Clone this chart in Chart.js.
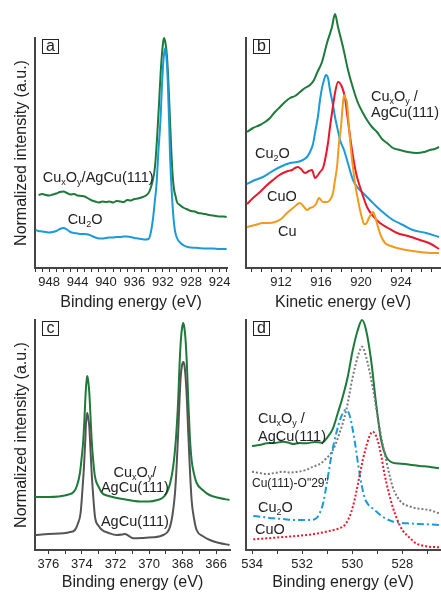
<!DOCTYPE html>
<html>
<head>
<meta charset="utf-8">
<script src="https://cdn.jsdelivr.net/npm/chart.js@4.4.1/dist/chart.umd.min.js"></script>
<style>
  html, body { margin: 0; padding: 0; background: #fff; }
  #wrap { position: relative; width: 441px; height: 593px; }
  #wrap canvas { position: absolute; left: 0; top: 0; }
</style>
</head>
<body>
<div id="wrap">
  <canvas id="panelA" width="441" height="593"></canvas>
  <canvas id="panelB" width="441" height="593"></canvas>
  <canvas id="panelC" width="441" height="593"></canvas>
  <canvas id="panelD" width="441" height="593"></canvas>
</div>
<script>
// ---- panel a: Cu 2p (binding energy, eV) ----
const aOxideE = [949.5,949.0,948.5,948.0,947.5,947.0,946.5,946.0,945.5,945.0,944.5,944.0,943.5,943.0,942.5,942.0,941.5,941.0,940.5,940.0,939.5,939.0,938.5,938.0,937.5,937.0,936.5,936.0,935.5,935.0,934.5,934.0,933.7,933.4,933.1,932.8,932.5,932.3,932.1,931.9,931.8,931.6,931.4,931.2,931.0,930.8,930.6,930.4,930.2,930.0,929.6,929.0,928.5,928.0,927.5,927.0,926.5,926.0,925.5,925.0,924.5,924.0,923.5,923.0];
const aOxideI = [73,74,73,72.5,73.5,74.5,76,76.5,75,73.5,74,72.5,72,71.5,69.5,67.5,66.5,65.5,66.5,66,66.5,65.5,67,66.5,66,68,67.5,69,69.5,70.5,72,75,80,88,101,130,168,195,215,228,230,224,211,185,151,118,92,78,72,66,63,60,58.5,57,56.5,55,54.5,54,53,52.5,52,51.5,51.5,51];
const aCu2oE = [949.9,949.5,949.0,948.5,948.0,947.5,947.0,946.5,946.0,945.5,945.0,944.5,944.0,943.5,943.0,942.5,942.0,941.5,941.0,940.5,940.0,939.5,939.0,938.5,938.0,937.5,937.0,936.5,936.0,935.5,935.0,934.5,934.0,933.7,933.4,933.1,932.9,932.6,932.3,932.1,931.9,931.7,931.5,931.3,931.1,931.0,930.8,930.5,930.3,930.0,929.5,929.0,928.5,928.0,927.0,926.0,925.0,924.0,923.0];
const aCu2oI = [38,37,36.5,36,35.5,36,37,39,40,38.5,36,35,34.5,34,34,33.5,32,30.5,29.5,29.5,30,30.5,30.5,31,31,31.5,31.5,31,30,29.5,29,28.5,29,35,48,68,82,118,151,185,208,219.5,212,188,145,118,85,51,38,30,25,22.5,21,20.5,20,19.5,19.5,19,19];

// ---- panel b: Cu LMM (kinetic energy, eV) ----
const bOxideE = [908.6,909.2,909.9,910.4,910.9,911.4,911.9,912.4,912.9,913.4,913.9,914.4,914.9,915.3,915.6,916.1,916.6,917.1,917.4,917.7,918.2,918.7,919.2,919.7,920.2,920.6,921.1,921.6,922.1,922.6,923.2,923.9,924.7,925.6,926.3,926.9,927.4,927.8];
const bOxideI = [136,140,143,146,150,156,161,166,170,172,176,180,183,188,195,206,225,241,254,241,221,198,180,165,155,148,141,136,129,125,120,118,116,115,116,118,119,121];
const bCu2oE = [908.6,909.4,910.2,911.0,911.9,912.9,913.6,914.2,914.6,914.9,915.2,915.4,915.7,915.9,916.1,916.3,916.5,916.7,916.9,917.2,917.4,917.7,917.9,918.3,918.6,919.2,919.7,920.2,920.9,921.6,922.4,923.2,924.2,925.2,926.5,927.8];
const bCu2oI = [84,88,91,96,101,105,106,108,111,116,124,135,152,168,180,188,193,190,178,163,151,137,128,118,108,88,80,75,68,61,54,48,43,38,35,31];
const bCuoE = [908.6,909.2,909.9,910.5,911.2,911.7,912.2,912.7,913.1,913.4,913.7,914.0,914.4,914.8,915.1,915.4,915.7,915.9,916.2,916.4,916.7,916.9,917.2,917.4,917.7,918.1,918.4,918.6,918.9,919.1,919.4,919.6,920.1,920.6,921.2,921.9,922.7,923.6,924.7,925.9,927.0,927.8];
const bCuoI = [64,70,76,82,88,92,95,97,98,100,101,99,95,97,98,90,93,96,100,108,125,141,162,175,186,181,170,155,132,118,100,91,75,61,52,45,40,35,32,28,24,19];
const bCuE = [908.6,909.4,910.2,910.8,911.4,912.0,912.6,913.2,913.9,914.3,914.6,914.9,915.2,915.5,915.8,916.2,916.6,916.9,917.2,917.4,917.6,917.8,918.0,918.15,918.3,918.45,918.6,918.8,919.0,919.2,919.4,919.7,919.9,920.1,920.3,920.5,920.7,920.95,921.2,921.45,921.7,922.0,922.4,923.0,923.6,924.5,925.9,927.0,927.8];
const bCuI = [41,43,45,45,46,49,55,60,65,61,58,60,61,64,70,66,66,68,75,88,101,125,141,160,173,170,165,140,118,100,85,68,58,50,44,44,48,53,56,50,41,32,25,22,20,18,16,15,15];

// ---- panel c: Ag 3d (binding energy, eV) ----
const cOxideE = [376.8,376.0,375.4,374.9,374.5,374.3,374.12,374.0,373.92,373.84,373.78,373.72,373.68,373.62,373.56,373.48,373.42,373.32,373.22,373.0,372.8,372.4,371.9,371.4,370.9,370.5,370.0,369.5,369.2,368.95,368.75,368.56,368.4,368.26,368.18,368.1,368.03,367.96,367.89,367.82,367.74,367.66,367.56,367.46,367.3,367.16,366.8,366.4,365.8,365.2];
const cOxideI = [53,53,53.5,55,58,64,77,95,110,135,157,170,174,168,157,130,110,88,73,63,57,54,52,50.5,49,48.5,48.5,50,52,57,66,83,110,150,185,210,222,227,222,210,185,150,112,90,75,67,60,55,52,50];
const cAgCuE = [376.8,376.0,375.1,374.7,374.42,374.25,374.08,373.98,373.88,373.8,373.76,373.72,373.68,373.62,373.56,373.49,373.42,373.32,373.22,373.0,372.8,372.4,371.93,371.6,371.44,371.2,370.94,370.4,369.75,369.4,369.15,368.9,368.75,368.6,368.45,368.35,368.26,368.18,368.11,368.03,367.96,367.89,367.82,367.74,367.66,367.56,367.46,367.3,367.16,366.8,366.37,365.8,365.2];
const cAgCuI = [15,16,16.7,18,20,26,37,58,83,110,127,134,137,131,123,100,77,52,33,24,20,17,15,15.5,16,14,11.7,12,12.7,13.5,15,18,23,35,57,85,117,150,173,185,188,185,173,150,117,80,50,30,20,14,10,7,5];

// ---- panel d: O 1s (binding energy, eV) ----
const dOxideE = [534.0,533.7,533.4,533.1,532.76,532.5,532.36,532.1,531.83,531.5,531.23,530.97,530.77,530.58,530.38,530.18,529.98,529.78,529.61,529.45,529.25,529.05,528.85,528.65,528.45,528.26,527.9,527.6,527.3,526.94,526.54];
const dOxideI = [104,105,106.7,107,108.3,107,106,107,106.7,108,107.3,113.3,121.7,136.7,153.3,173.3,200,220,230,220,190,146.7,110,93.3,88,86.7,86,85,84,83.3,81.7];
const dO29E = [534.0,533.7,533.42,533.1,532.76,532.45,532.16,531.85,531.57,531.3,531.1,530.77,530.51,530.24,529.98,529.74,529.61,529.45,529.19,528.92,528.65,528.39,528.2,528.0,527.7,527.46,527.2,526.94,526.54];
const dO29I = [78.3,77,76,77,78.3,77.5,78.3,80,83.3,86,90,100,116.7,140,173.3,196.7,203.3,193.3,163.3,123.3,90,63.3,53,46.7,43.5,41.7,41,40,36.7];
const dCu2oE = [533.95,533.55,533.15,532.75,532.36,532.0,531.7,531.45,531.3,531.15,531.04,530.94,530.84,530.74,530.64,530.44,530.27,530.11,529.91,529.71,529.52,529.35,529.19,528.79,528.45,528.13,527.7,527.33,526.9,526.54];
const dCu2oI = [34,33,31.7,31,30,30,30,31.5,36.7,48,63.3,78,93.3,106,116.7,133.3,140,135,110,76.7,53.3,45,41.7,33.3,29,27.3,26.5,26,25.5,25];
const dCuoE = [533.95,533.4,532.89,532.35,531.83,531.4,531.04,530.75,530.51,530.3,530.11,529.98,529.85,529.72,529.58,529.45,529.32,529.19,529.09,528.99,528.85,528.72,528.55,528.39,528.2,528.0,527.7,527.46,527.2,526.94,526.54];
const dCuoI = [10.7,11.7,12.7,13.8,15,16.5,18.3,20,21.7,25,33.3,43,56.7,73,90,103,113.3,118.3,116,110,95,76.7,58,43.3,30,20,12,6.7,4.5,3.3,2.7];

// in-plot labels: [text, subscript?] pieces
const oxideLabel = [['Cu'], ['x', 1], ['O'], ['y', 1], ['/AgCu(111)']];
const oxideLabelTop = [['Cu'], ['x', 1], ['O'], ['y', 1], [' /']];
const oxideLabelTopC = [['Cu'], ['x', 1], ['O'], ['y', 1], ['/']];
const cu2oLabel = [['Cu'], ['2', 1], ['O']];

const FONT = "'Liberation Sans', Arial, Helvetica, sans-serif";
const GREEN = '#1d7a3a', BLUE = '#1b9ad8', RED = '#e8182c', ORANGE = '#f29a1c';

const textPlugin = {
    id: 'panelText',
    afterDatasetsDraw(chart, args, opts) {
        const ctx = chart.ctx;
        const xs = chart.scales.x, ys = chart.scales.y;
        ctx.save();
        ctx.fillStyle = '#222';
        ctx.textBaseline = 'middle';
        ctx.textAlign = 'left';
        (opts.labels || []).forEach(lb => {
            const size = lb.size || 14.5;
            const font = sub => (sub ? Math.round(size * 0.6) : size) + 'px ' + FONT;
            const parts = lb.parts.map(p => ({ t: p[0], sub: !!p[1] }));
            let w = 0;
            parts.forEach(p => { ctx.font = font(p.sub); p.w = ctx.measureText(p.t).width; w += p.w; });
            let x = xs.getPixelForValue(lb.x);
            const y = ys.getPixelForValue(lb.y);
            if (lb.align === 'center') x -= w / 2;
            parts.forEach(p => {
                ctx.font = font(p.sub);
                ctx.fillText(p.t, x, p.sub ? y + size * 0.32 : y);
                x += p.w;
            });
        });
        if (opts.letter) {
            // boxed panel letter
            const a = chart.chartArea;
            const bx = Math.round(a.left + 7), by = Math.round(a.top + 1);
            ctx.strokeStyle = '#222';
            ctx.lineWidth = 1;
            ctx.strokeRect(bx + 0.5, by + 0.5, 16, 14);
            ctx.font = '16px ' + FONT;
            ctx.textAlign = 'center';
            ctx.fillText(opts.letter, bx + 8.5, by + 8);
        }
        ctx.restore();
    }
};

function makePanel(id, cfg) {
    const datasets = cfg.series.map(s => ({
        data: s.e.map((e, i) => ({ x: e, y: s.i[i] })),
        borderColor: s.color,
        borderWidth: s.width || 2,
        borderDash: s.dash || [],
        pointRadius: 0,
        cubicInterpolationMode: 'monotone',
        fill: false,
        clip: false
    }));

    return new Chart(document.getElementById(id), {
        type: 'line',
        data: { datasets: datasets },
        options: {
            responsive: false,
            animation: false,
            devicePixelRatio: 1,
            layout: { padding: cfg.pad },
            plugins: {
                legend: { display: false },
                tooltip: { enabled: false },
                panelText: { labels: cfg.labels, letter: cfg.letter }
            },
            scales: {
                x: {
                    type: 'linear',
                    bounds: 'data',
                    min: cfg.xmin,
                    max: cfg.xmax,
                    reverse: cfg.reverse,
                    border: { color: '#444', width: 2 },
                    grid: { drawOnChartArea: false, drawTicks: true, tickLength: 4, color: '#333' },
                    ticks: {
                        autoSkip: false,
                        maxRotation: 0,
                        padding: 3,
                        color: '#222',
                        font: { size: 13, family: FONT },
                        callback: v => (Math.round(v) % cfg.labelEvery === 0 ? String(Math.round(v)) : '')
                    },
                    title: {
                        display: true,
                        text: cfg.xTitle,
                        color: '#222',
                        font: { size: 16, family: FONT },
                        padding: { top: 0, bottom: 0 }
                    },
                    afterBuildTicks: s => {
                        const t = [];
                        for (let v = Math.ceil(s.min); v <= Math.floor(s.max); v++) t.push({ value: v });
                        s.ticks = t;
                    },
                    afterFit: s => { s.height = cfg.xh; s.paddingLeft = 0; s.paddingRight = 0; }
                },
                y: {
                    min: 0,
                    max: 230,
                    border: { color: '#444', width: 2 },
                    grid: { drawOnChartArea: false, drawTicks: false },
                    ticks: { display: false },
                    title: {
                        display: !!cfg.yTitle,
                        text: cfg.yTitle || '',
                        color: '#222',
                        font: { size: 16, family: FONT },
                        padding: { top: 12, bottom: 0 }
                    },
                    afterFit: s => { s.width = cfg.yw; }
                }
            }
        },
        plugins: [textPlugin]
    });
}

makePanel('panelA', {
    pad: { left: 0, top: 38, right: 214, bottom: 281 }, yw: 35, xh: 44,
    xmin: 922.95, xmax: 950, reverse: true, labelEvery: 4,
    xTitle: 'Binding energy (eV)', yTitle: 'Normalized intensity (a.u.)', letter: 'a',
    series: [
        { e: aCu2oE, i: aCu2oI, color: BLUE },
        { e: aOxideE, i: aOxideI, color: GREEN }
    ],
    labels: [
        { x: 948.9, y: 90, parts: oxideLabel },
        { x: 945.4, y: 48, parts: cu2oLabel }
    ]
});

makePanel('panelB', {
    pad: { left: 244, top: 38, right: 1, bottom: 281 }, yw: 2, xh: 44,
    xmin: 908.5, xmax: 927.9, reverse: false, labelEvery: 4,
    xTitle: 'Kinetic energy (eV)', letter: 'b',
    series: [
        { e: bCuE, i: bCuI, color: ORANGE },
        { e: bCuoE, i: bCuoI, color: RED },
        { e: bCu2oE, i: bCu2oI, color: BLUE },
        { e: bOxideE, i: bOxideI, color: GREEN }
    ],
    labels: [
        { x: 909.4, y: 114, parts: cu2oLabel },
        { x: 910.6, y: 71, parts: [['CuO']] },
        { x: 911.7, y: 36, parts: [['Cu']] },
        { x: 921.0, y: 171, parts: oxideLabelTop },
        { x: 921.0, y: 155, parts: [['AgCu(111)']] }
    ]
});

makePanel('panelC', {
    pad: { left: 0, top: 320, right: 211, bottom: 1 }, yw: 35, xh: 42,
    xmin: 365.17, xmax: 376.8, reverse: true, labelEvery: 2,
    xTitle: 'Binding energy (eV)', yTitle: 'Normalized intensity (a.u.)', letter: 'c',
    series: [
        { e: cAgCuE, i: cAgCuI, color: '#555' },
        { e: cOxideE, i: cOxideI, color: GREEN }
    ],
    labels: [
        { x: 370.84, y: 77, parts: oxideLabelTopC, align: 'center' },
        { x: 370.84, y: 62, parts: [['AgCu(111)']], align: 'center' },
        { x: 370.84, y: 28, parts: [['AgCu(111)']], align: 'center' }
    ]
});

makePanel('panelD', {
    pad: { left: 244, top: 320, right: 1, bottom: 1 }, yw: 2, xh: 42,
    xmin: 526.5, xmax: 534.24, reverse: true, labelEvery: 2,
    xTitle: 'Binding energy (eV)', letter: 'd',
    series: [
        { e: dCuoE, i: dCuoI, color: RED, dash: [2, 2] },
        { e: dCu2oE, i: dCu2oI, color: BLUE, dash: [7, 3, 2, 3] },
        { e: dO29E, i: dO29I, color: '#7a7a7a', dash: [2, 2] },
        { e: dOxideE, i: dOxideI, color: GREEN }
    ],
    labels: [
        { x: 533.76, y: 131, parts: oxideLabelTop },
        { x: 533.76, y: 113, parts: [['AgCu(111)']] },
        { x: 534.0, y: 66, parts: [['Cu(111)-O"29"']], size: 12 },
        { x: 533.76, y: 42, parts: cu2oLabel },
        { x: 533.88, y: 20, parts: [['CuO']] }
    ]
});
</script>
</body>
</html>
